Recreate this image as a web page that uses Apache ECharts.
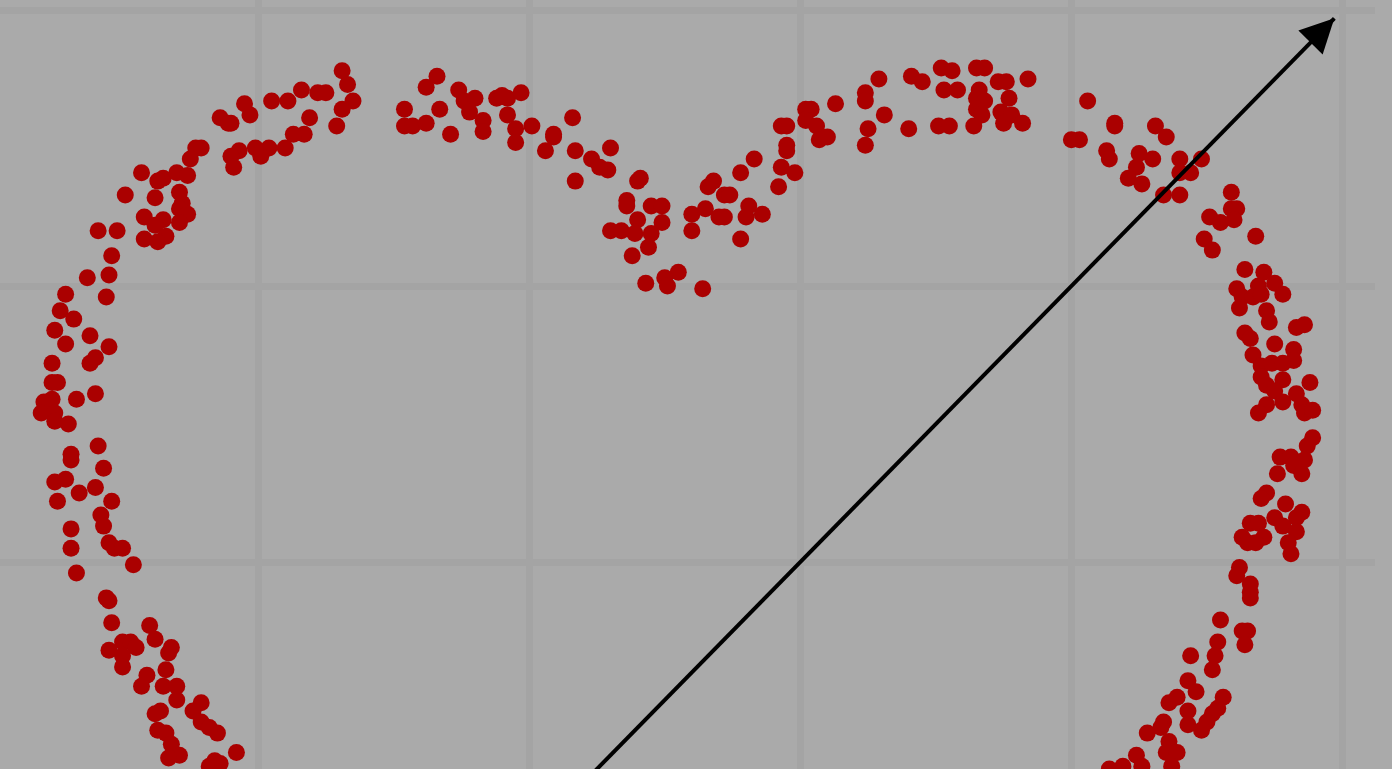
<!DOCTYPE html>
<html>
<head>
<meta charset="utf-8">
<title>Heart scatter</title>
<script src="https://cdn.jsdelivr.net/npm/echarts/dist/echarts.min.js"></script>
<style>
  html, body { margin: 0; padding: 0; background: #aaaaaa; }
  #chart { width: 1392px; height: 769px; }
</style>
</head>
<body>
<div id="chart"></div>
<script>
// heart points, grid lines sit on whole numbers
const leftLobe = [
  [0.31,1.78],[0.33,1.73],[0.35,1.67],[0.31,1.64],[0.29,1.58],[0.22,1.70],[0.25,1.70],[0.16,1.71],[0.11,1.67],[0.05,1.67],
  [0.19,1.61],[0.17,1.55],[0.13,1.55],[0.10,1.50],[0.04,1.50],[0.01,1.47],[-0.01,1.50],[-0.05,1.66],[-0.03,1.62],[-0.14,1.61],
  [-0.10,1.59],[-0.11,1.59],[-0.07,1.49],[-0.10,1.47],[-0.09,1.43],[-0.21,1.50],[-0.23,1.50],[-0.25,1.46],[-0.43,1.41],[-0.35,1.39],
  [-0.37,1.38],[-0.30,1.41],[-0.26,1.40],[-0.49,1.33],[-0.38,1.32],[-0.29,1.34],[-0.28,1.30],[-0.29,1.28],[-0.26,1.26],[-0.29,1.23],
  [-0.42,1.25],[-0.35,1.24],[-0.38,1.22],[-0.34,1.18],[-0.42,1.17],[-0.37,1.16],[-0.59,1.20],[-0.52,1.20],[-0.54,1.11]
];

const leftSide = [
  [-0.63,1.03],[-0.55,1.04],[-0.56,0.96],[-0.71,0.97],[-0.73,0.91],[-0.68,0.88],[-0.75,0.84],[-0.71,0.79],[-0.62,0.82],[-0.55,0.78],
  [-0.62,0.72],[-0.60,0.74],[-0.76,0.72],[-0.76,0.65],[-0.74,0.65],[-0.76,0.59],[-0.79,0.58],[-0.80,0.54],[-0.75,0.54],[-0.75,0.51],
  [-0.70,0.50],[-0.67,0.59],[-0.60,0.61],[-0.59,0.42],[-0.69,0.39],[-0.69,0.37],[-0.57,0.34],[-0.75,0.29],[-0.71,0.30],[-0.66,0.25],
  [-0.60,0.27],[-0.74,0.22],[-0.54,0.22],[-0.58,0.17],[-0.57,0.13],[-0.69,0.12],[-0.69,0.05],[-0.55,0.07],[-0.53,0.05],[-0.50,0.05],
  [-0.46,-0.01],[-0.67,-0.04]
];

const leftBottom = [
  [-0.56,-0.13],[-0.55,-0.14],[-0.54,-0.22],[-0.40,-0.23],[-0.38,-0.28],[-0.55,-0.32],[-0.50,-0.29],[-0.47,-0.29],[-0.45,-0.31],[-0.50,-0.34],
  [-0.50,-0.38],[-0.33,-0.33],[-0.32,-0.31],[-0.34,-0.39],[-0.41,-0.41],[-0.43,-0.45],[-0.35,-0.45],[-0.30,-0.45],[-0.30,-0.50],[-0.21,-0.51],
  [-0.24,-0.54],[-0.36,-0.54],[-0.38,-0.55],[-0.21,-0.58],[-0.15,-0.62],[-0.18,-0.60],[-0.37,-0.61],[-0.34,-0.62],[-0.32,-0.66],[-0.29,-0.70],
  [-0.33,-0.71],[-0.08,-0.69],[-0.16,-0.72],[-0.14,-0.73],[-0.18,-0.74]
];

const leftTop = [
  [0.66,1.76],[0.62,1.72],[0.54,1.64],[0.67,1.64],[0.54,1.58],[0.57,1.58],[0.62,1.59],[0.71,1.55],[0.74,1.71],[0.76,1.67],
  [0.80,1.68],[0.78,1.63],[0.83,1.60],[0.83,1.56],[0.88,1.68],[0.92,1.68],[0.97,1.70],[0.90,1.69],[0.92,1.62],[0.95,1.57],
  [0.95,1.52],[1.01,1.58],[1.09,1.55],[1.09,1.54],[1.06,1.49],[1.16,1.61],[1.17,1.49],[1.17,1.38],[1.23,1.46],[1.30,1.50],
  [1.29,1.42],[1.26,1.43]
];

const middleDip = [
  [1.41,1.39],[1.40,1.38],[1.36,1.31],[1.36,1.29],[1.45,1.29],[1.49,1.29],[1.49,1.23],[1.40,1.24],[1.30,1.20],[1.34,1.20],
  [1.39,1.19],[1.45,1.19],[1.44,1.14],[1.38,1.11],[1.43,1.01],[1.55,1.05],[1.50,1.03],[1.51,1.00],[1.64,0.99],[1.60,1.26],
  [1.60,1.20],[1.65,1.28],[1.66,1.36],[1.68,1.38],[1.70,1.25],[1.72,1.33],[1.74,1.33],[1.78,1.41],[1.83,1.46],[1.72,1.25],
  [1.81,1.29],[1.80,1.25],[1.86,1.26],[1.78,1.17]
];

const rightLobe = [
  [1.92,1.36],[1.93,1.43],[1.98,1.41],[1.95,1.51],[1.95,1.49],[1.93,1.58],[1.95,1.58],[2.02,1.64],[2.04,1.64],[2.02,1.60],
  [2.06,1.58],[2.07,1.53],[2.10,1.54],[2.13,1.66],[2.24,1.70],[2.24,1.67],[2.29,1.75],[2.31,1.62],[2.25,1.57],[2.24,1.51],
  [2.41,1.76],[2.45,1.74],[2.40,1.57],[2.52,1.79],[2.56,1.78],[2.53,1.71],[2.58,1.71],[2.51,1.58],[2.55,1.58],[2.65,1.79],
  [2.68,1.79],[2.66,1.71],[2.65,1.68],[2.68,1.67],[2.65,1.64],[2.67,1.62],[2.64,1.58],[2.73,1.74],[2.76,1.74],[2.77,1.68],
  [2.74,1.63],[2.75,1.59],[2.78,1.62],[2.82,1.59],[2.84,1.75]
];

const rightTop = [
  [3.06,1.67],[3.00,1.53],[3.03,1.53],[3.16,1.59],[3.16,1.58],[3.31,1.58],[3.35,1.54],[3.13,1.49],[3.14,1.46],[3.25,1.48],
  [3.30,1.46],[3.24,1.43],[3.21,1.39],[3.26,1.37],[3.40,1.46],[3.48,1.46],[3.40,1.41],[3.44,1.41],[3.34,1.33],[3.40,1.33],
  [3.59,1.34],[3.61,1.28],[3.59,1.28],[3.51,1.25],[3.55,1.23],[3.60,1.24],[3.68,1.18],[3.49,1.17],[3.52,1.13],[3.64,1.06],
  [3.71,1.05],[3.75,1.01],[3.78,0.97],[3.61,0.99],[3.69,1.00],[3.63,0.96],[3.67,0.96],[3.70,0.97]
];

const rightSide = [
  [3.62,0.92],[3.72,0.91],[3.73,0.87],[3.83,0.85],[3.86,0.86],[3.64,0.83],[3.66,0.81],[3.75,0.79],[3.67,0.75],[3.82,0.77],
  [3.82,0.73],[3.70,0.71],[3.74,0.72],[3.78,0.72],[3.70,0.67],[3.72,0.64],[3.78,0.66],[3.88,0.65],[3.75,0.62],[3.83,0.61],
  [3.78,0.58],[3.85,0.57],[3.86,0.54],[3.89,0.55],[3.72,0.57],[3.69,0.54],[3.89,0.45],[3.87,0.42],[3.77,0.38],[3.81,0.38],
  [3.86,0.37],[3.82,0.35],[3.76,0.32],[3.85,0.32],[3.72,0.25],[3.70,0.23],[3.79,0.21],[3.85,0.18],[3.83,0.16],[3.75,0.16],
  [3.78,0.13],[3.83,0.11],[3.66,0.14],[3.69,0.14],[3.63,0.09],[3.65,0.07],[3.71,0.09],[3.68,0.07],[3.80,0.07],[3.81,0.03],
  [3.62,-0.02]
];

const rightBottom = [
  [3.61,-0.05],[3.66,-0.08],[3.66,-0.11],[3.66,-0.13],[3.55,-0.21],[3.65,-0.25],[3.63,-0.25],[3.54,-0.29],[3.64,-0.30],[3.53,-0.34],
  [3.44,-0.34],[3.52,-0.39],[3.43,-0.43],[3.46,-0.47],[3.56,-0.49],[3.54,-0.53],[3.52,-0.55],[3.50,-0.58],[3.48,-0.61],[3.43,-0.59],
  [3.43,-0.54],[3.36,-0.51],[3.39,-0.49],[3.34,-0.58],[3.33,-0.60],[3.28,-0.62],[3.36,-0.65],[3.35,-0.69],[3.39,-0.69],[3.24,-0.70],
  [3.19,-0.74],[3.26,-0.74],[3.14,-0.75],[3.37,-0.74]
];

// the arrow
const arrowFrom = [1, -1];
const arrowTo = [3.97, 1.97];

const heart = [].concat(leftLobe, leftSide, leftBottom, leftTop, middleDip,
  rightLobe, rightTop, rightSide, rightBottom);

const gridLine = { show: true, showMaxLine: false, lineStyle: { color: '#a4a4a4', width: 7 } };

const chart = echarts.init(document.getElementById('chart'));
chart.setOption({
  backgroundColor: '#aaaaaa',
  animation: false,
  grid: { left: -13, right: 17, top: -128, bottom: -69, containLabel: false, outerBoundsMode: 'none' },
  xAxis: {
    type: 'value', min: -1, max: 4.12, interval: 1,
    axisLine: { show: false }, axisTick: { show: false }, axisLabel: { show: false },
    splitLine: gridLine
  },
  yAxis: {
    type: 'value', min: -1, max: 2.5, interval: 1,
    axisLine: { show: false }, axisTick: { show: false }, axisLabel: { show: false },
    splitLine: gridLine
  },
  series: [
    {
      type: 'scatter',
      data: heart,
      symbolSize: 17,
      silent: true,
      itemStyle: { color: '#aa0000', opacity: 1 }
    },
    {
      type: 'line',
      data: [],
      z: 5,
      silent: true,
      markLine: {
        silent: true,
        animation: false,
        label: { show: false },
        lineStyle: { color: '#000000', width: 4, type: 'solid' },
        data: [[
          { coord: arrowFrom, symbol: 'none' },
          { coord: arrowTo, symbol: 'triangle', symbolSize: [34, 34], symbolOffset: [0, '50%'] }
        ]]
      }
    }
  ]
});
</script>
</body>
</html>
